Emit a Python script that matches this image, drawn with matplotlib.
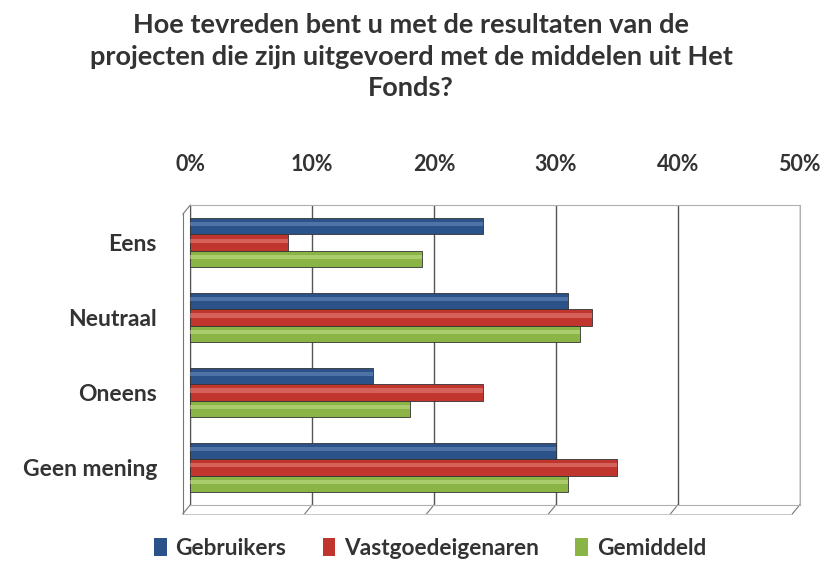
"""Tevredenheid resultaten projecten Het Fonds — liggend staafdiagram (3 groepen)."""
import numpy as np
import matplotlib
matplotlib.use("Agg")
import matplotlib.pyplot as plt
from matplotlib.patches import Patch

plt.rcParams["font.family"] = ["Lato", "DejaVu Sans"]

categories = ["Eens", "Neutraal", "Oneens", "Geen mening"]
series = ["Gebruikers", "Vastgoedeigenaren", "Gemiddeld"]
gebruikers = [24, 31, 15, 30]
vastgoed = [8, 33, 24, 35]
gemiddeld = [19, 32, 18, 31]
ticks = [0, 10, 20, 30, 40, 50]
tick_labels = ["0%", "10%", "20%", "30%", "40%", "50%"]

colors = ["#2b5389", "#c0362f", "#8ab446"]
highlight = ["#6f8fc0", "#e8877f", "#c6e08e"]
TXT = "#333333"
W = "bold"


def main():
    fig = plt.figure(figsize=(8.27, 5.73), dpi=100)
    ax = fig.add_axes([0.230, 0.119, 0.737, 0.523])

    y = np.arange(len(categories))
    h = 0.22
    for k, vals in enumerate([gebruikers, vastgoed, gemiddeld]):
        pos = y - h + k * h
        ax.barh(pos, vals, height=h, color=colors[k], edgecolor="#333333", lw=0.6, zorder=3)
        # cylinder-achtige glans
        ax.barh(pos - h * 0.12, vals, height=h * 0.25, color=highlight[k], alpha=0.55, lw=0, zorder=4)

    ax.set_xlim(0, 50)
    ax.set_ylim(len(categories) - 0.5, -0.5)
    ax.set_xticks(ticks)
    ax.set_xticklabels(tick_labels)
    ax.xaxis.tick_top()
    ax.tick_params(axis="x", length=0, pad=22, labelsize=15.5, colors=TXT)
    for t in ax.get_xticklabels():
        t.set_fontweight(W)
    ax.set_yticks(y)
    ax.set_yticklabels(categories, fontsize=16.5, fontweight=W, color=TXT)
    ax.tick_params(axis="y", length=0, pad=24)

    ax.grid(axis="x", color="#555555", lw=1.0, zorder=0)
    for s in ["top", "right", "bottom"]:
        ax.spines[s].set_color("#b0b0b0")
    ax.spines["left"].set_color("#555555")

    # 3D-rand links / onder
    for xv in ticks:
        ax.plot([xv - 0.6, xv], [3.62, 3.5], color="#777777", lw=0.8, clip_on=False)
    ax.plot([-0.6, -0.6], [-0.38, 3.62], color="#777777", lw=0.8, clip_on=False)
    ax.plot([-0.6, 0], [-0.38, -0.5], color="#777777", lw=0.8, clip_on=False)
    ax.plot([-0.6, 49.4], [3.62, 3.62], color="#bbbbbb", lw=0.6, clip_on=False)

    fig.text(0.497, 0.977, "Hoe tevreden bent u met de resultaten van de\n"
             "projecten die zijn uitgevoerd met de middelen uit Het\nFonds?",
             ha="center", va="top", fontsize=19.5, fontweight=W, color=TXT, linespacing=1.38)

    handles = [Patch(facecolor=c) for c in colors]
    fig.legend(handles, series, loc="center", bbox_to_anchor=(0.52, 0.043), ncol=3, frameon=False,
               prop={"size": 16.3, "weight": W}, handlelength=0.55, handleheight=0.8,
               handletextpad=0.4, columnspacing=1.6, labelcolor=TXT)

    fig.savefig("out.png", dpi=100)
    plt.close(fig)


if __name__ == "__main__":
    main()
